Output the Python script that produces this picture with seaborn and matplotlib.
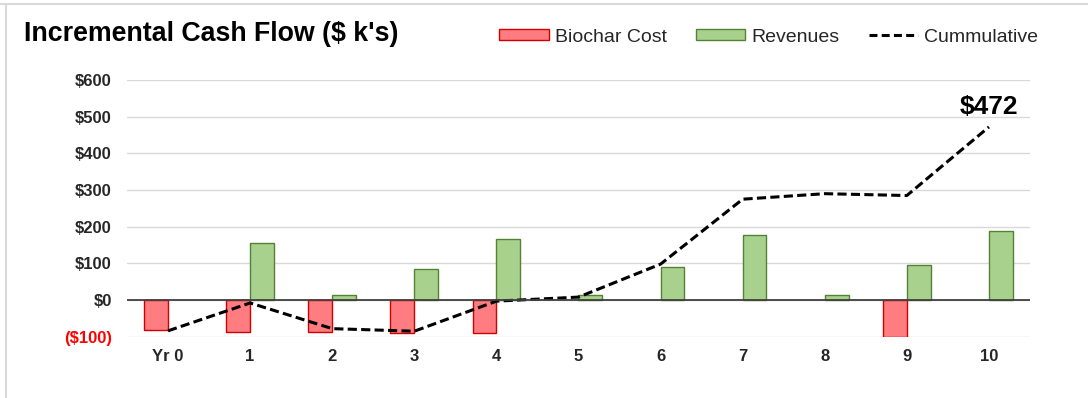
import matplotlib
matplotlib.use("Agg")
import matplotlib.pyplot as plt
from matplotlib.lines import Line2D
from matplotlib.patches import Patch
import numpy as np
import pandas as pd
import seaborn as sns

# Data ($ thousands)
years = ["Yr 0", "1", "2", "3", "4", "5", "6", "7", "8", "9", "10"]
biochar_cost = [-82, -87, -87, -90, -90, np.nan, np.nan, np.nan, np.nan, -100, np.nan]
revenues = [np.nan, 155, 15, 85, 167, 15, 90, 178, 15, 96, 188]
cumulative = [-84, -8, -78, -85, -3, 8, 98, 275, 290, 285, 472]
y_ticks = [-100, 0, 100, 200, 300, 400, 500, 600]

series_names = ["Biochar Cost", "Revenues"]
fill_colors = {"Biochar Cost": "#FF7C80", "Revenues": "#A9D18E"}
edge_colors = {"Biochar Cost": "#D00000", "Revenues": "#548235"}

sns.set_theme(style="white")
plt.rcParams["font.family"] = ["Liberation Sans", "DejaVu Sans"]

df = pd.DataFrame({
    "Year": years * 2,
    "Series": ["Biochar Cost"] * len(years) + ["Revenues"] * len(years),
    "Value": biochar_cost + revenues,
})

fig = plt.figure(figsize=(10.88, 3.98), dpi=100)
ax = fig.add_axes([0.1167, 0.154, 0.830, 0.645])

sns.barplot(data=df, x="Year", y="Value", hue="Series", order=years,
            hue_order=series_names, palette=fill_colors, width=0.58,
            dodge=True, gap=0, saturation=1, errorbar=None, legend=False,
            ax=ax, zorder=3)

# Bar outlines per series
for container, name in zip(ax.containers, series_names):
    for patch in container:
        patch.set_edgecolor(edge_colors[name])
        patch.set_linewidth(1.0)

# Cumulative line through category centres
dash = (0, (3, 1.4))
ax.plot(np.arange(len(years)), cumulative, color="black", linestyle=dash,
        linewidth=2.2, zorder=4)

ax.annotate(f"${cumulative[-1]}", xy=(len(years) - 1, cumulative[-1]),
            xytext=(0, 6), textcoords="offset points", ha="center", va="bottom",
            fontsize=19, fontweight="bold", color="black")

ax.set_xlim(-0.5, len(years) - 0.5)
ax.set_ylim(-100, 600)
ax.set_yticks(y_ticks)

def money(v):
    return f"(${abs(v)})" if v < 0 else f"${v}"

ax.set_yticklabels([money(v) for v in y_ticks], fontsize=12, fontweight="bold")
for lbl, v in zip(ax.get_yticklabels(), y_ticks):
    lbl.set_color("#FF0000" if v < 0 else "#262626")
ax.set_xticks(range(len(years)))
ax.set_xticklabels(years, fontsize=12, fontweight="bold", color="#262626")
ax.tick_params(axis="y", length=0, pad=11)
ax.tick_params(axis="x", length=0, pad=9)
ax.set_xlabel("")
ax.set_ylabel("")

ax.grid(axis="y", color="#D9D9D9", linewidth=1.0, zorder=0)
ax.set_axisbelow(True)
ax.axhline(0, color="#404040", linewidth=1.3, zorder=5)
for s in ax.spines.values():
    s.set_visible(False)

# Title and legend
fig.text(24 / 1088, 1 - 34 / 398, "Incremental Cash Flow ($ k's)", fontsize=19.3,
         fontweight="bold", ha="left", va="center", color="black")

handles = [
    Patch(facecolor=fill_colors["Biochar Cost"], edgecolor=edge_colors["Biochar Cost"], linewidth=1.0),
    Patch(facecolor=fill_colors["Revenues"], edgecolor=edge_colors["Revenues"], linewidth=1.0),
    Line2D([0], [0], color="black", linestyle=(0, (2.6, 1.4)), linewidth=2.2),
]
fig.legend(handles, ["Biochar Cost", "Revenues", "Cummulative"], loc="center right",
           bbox_to_anchor=(1038 / 1088, 1 - 37 / 398), ncol=3, frameon=False,
           fontsize=14, handlelength=2.55, handleheight=0.5, handletextpad=0.3,
           columnspacing=1.5, borderaxespad=0, borderpad=0)

# Light frame lines along the top and left edge
fig.add_artist(Line2D([0, 1], [1 - 4 / 398, 1 - 4 / 398], transform=fig.transFigure,
                      color="#D9D9D9", linewidth=1.5))
fig.add_artist(Line2D([6 / 1088, 6 / 1088], [0, 1 - 4 / 398], transform=fig.transFigure,
                      color="#D9D9D9", linewidth=1.5))

fig.savefig("out.png", dpi=100, facecolor="white")
